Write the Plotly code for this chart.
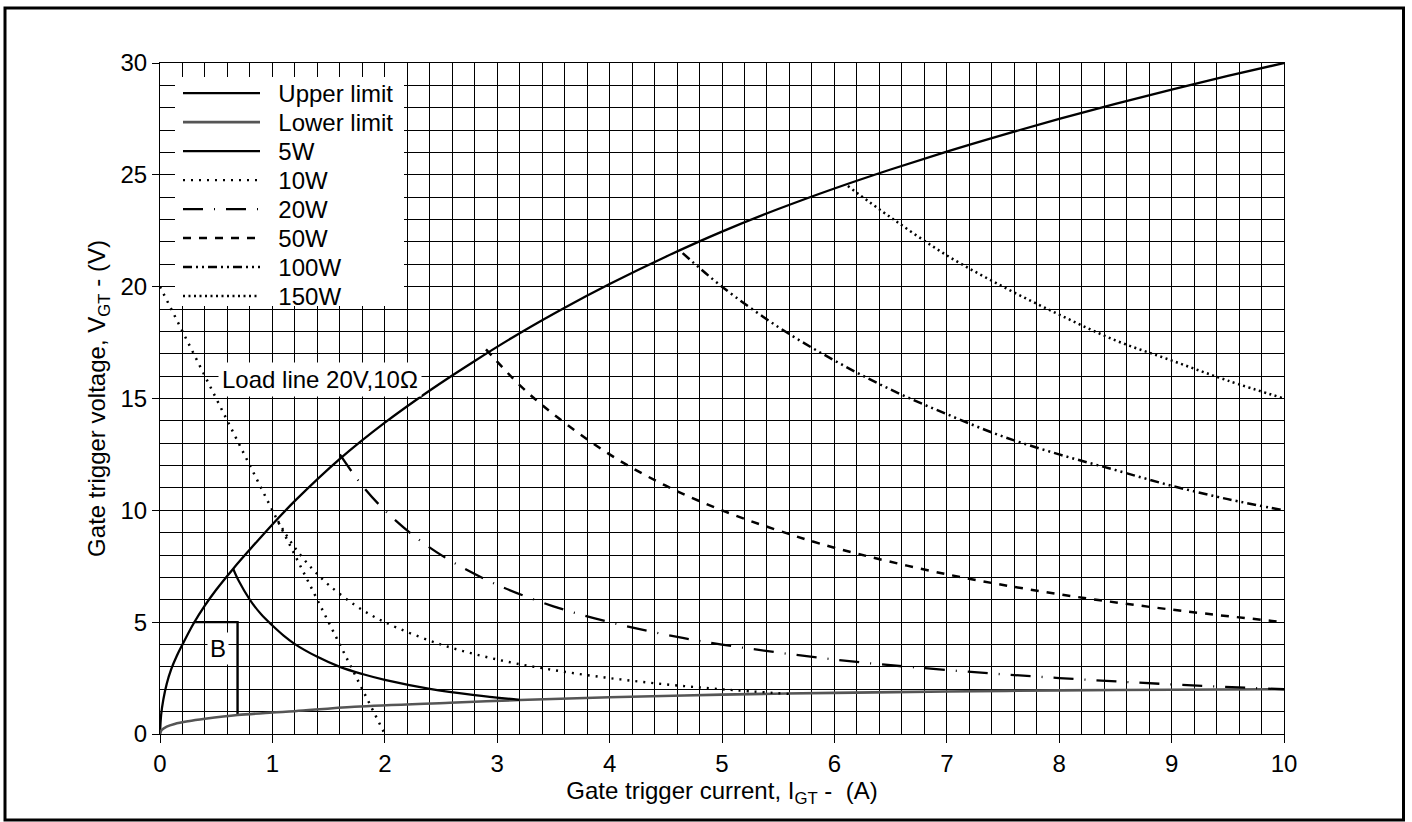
import plotly.graph_objects as go

FONT = "Liberation Sans, Arial, Helvetica, sans-serif"

# ---- data (I in A, V in V) ----
I_upper = [0, 0.01, 0.03, 0.06, 0.1, 0.15, 0.2, 0.3, 0.4, 0.5, 0.65, 0.8, 1.0, 1.2, 1.6, 2.0, 2.4,
           2.8, 3.2, 3.6, 4.0, 4.5, 5.0, 5.5, 6.0, 6.5, 7.0, 7.5, 8.0, 8.5, 9.0, 9.5, 10]
V_upper = [0, 0.85, 1.55, 2.25, 2.9, 3.5, 4.0, 4.95, 5.75, 6.45, 7.38, 8.25, 9.37, 10.42, 12.3, 13.92, 15.36,
           16.68, 17.92, 19.06, 20.12, 21.34, 22.46, 23.47, 24.39, 25.24, 26.04, 26.79, 27.5, 28.17, 28.81,
           29.42, 30.0]

I_lower = [0, 0.015, 0.06, 0.13, 0.25, 0.4, 0.69, 1.0, 1.2, 1.73, 2.58, 3.2, 4.0, 5.0, 6.0, 7.0, 8.0, 9.0, 10]
V_lower = [0, 0.18, 0.33, 0.45, 0.57, 0.68, 0.85, 0.96, 1.02, 1.22, 1.40, 1.52, 1.64, 1.76, 1.84, 1.9, 1.95, 1.98, 2.0]

I_5w = [0.65, 0.7, 0.8, 0.9, 1.0, 1.1, 1.2, 1.4, 1.6, 1.8, 2.0, 2.4, 2.8, 3.2]
V_5w = [7.4, 6.85, 6.0, 5.35, 4.85, 4.4, 4.02, 3.45, 3.0, 2.68, 2.42, 2.02, 1.74, 1.53]

I_10w = [1.05, 1.1, 1.2, 1.35, 1.5, 1.75, 2.0, 2.5, 3.0, 3.5, 4.0, 4.5, 5.0, 5.6]
V_10w = [9.52, 9.09, 8.33, 7.41, 6.67, 5.71, 5.0, 4.0, 3.33, 2.86, 2.5, 2.22, 2.0, 1.79]

I_20w = [1.6, 1.8, 2.0, 2.3, 2.6, 3.0, 3.5, 4.0, 4.5, 5.0, 6.0, 7.0, 8.0, 9.0, 10.0]
V_20w = [12.5, 11.1, 10.0, 8.7, 7.7, 6.67, 5.71, 5.0, 4.44, 4.0, 3.33, 2.86, 2.5, 2.22, 2.0]

I_50w = [2.9, 3.2, 3.5, 4.0, 4.5, 5.0, 5.5, 6.0, 7.0, 8.0, 9.0, 10.0]
V_50w = [17.2, 15.6, 14.3, 12.5, 11.1, 10.0, 9.1, 8.33, 7.14, 6.25, 5.56, 5.0]

I_100w = [4.65, 5.0, 5.5, 6.0, 6.5, 7.0, 7.5, 8.0, 8.5, 9.0, 9.5, 10.0]
V_100w = [21.5, 20.0, 18.2, 16.7, 15.4, 14.3, 13.3, 12.5, 11.8, 11.1, 10.5, 10.0]

I_150w = [6.12, 6.5, 7.0, 7.5, 8.0, 8.5, 9.0, 9.5, 10.0]
V_150w = [24.5, 23.1, 21.4, 20.0, 18.75, 17.6, 16.7, 15.8, 15.0]

I_load = [0, 2]
V_load = [20, 0]

I_boxB = [0.3, 0.69, 0.69]
V_boxB = [5.0, 5.0, 0.85]

x_ticks = list(range(0, 11))
y_ticks = [0, 5, 10, 15, 20, 25, 30]

series = [
    ("Upper limit", I_upper, V_upper, dict(color="black", width=2.3, dash="solid")),
    ("Lower limit", I_lower, V_lower, dict(color="#555555", width=2.6, dash="solid")),
    ("5W", I_5w, V_5w, dict(color="black", width=2.2, dash="solid")),
    ("10W", I_10w, V_10w, dict(color="black", width=2.4, dash="2px,6px")),
    ("20W", I_20w, V_20w, dict(color="black", width=2.3, dash="20px,11px,1px,11px")),
    ("50W", I_50w, V_50w, dict(color="black", width=2.5, dash="8px,8px")),
    ("100W", I_100w, V_100w, dict(color="black", width=2.5, dash="9px,4px,2px,4px,2px,4px")),
    ("150W", I_150w, V_150w, dict(color="black", width=2.5, dash="2px,3.5px")),
]

fig = go.Figure()

fig.add_trace(go.Scatter(x=I_load, y=V_load, mode="lines", showlegend=False,
                         line=dict(color="black", width=2.5, dash="2px,6px")))
fig.add_trace(go.Scatter(x=I_boxB, y=V_boxB, mode="lines", showlegend=False,
                         line=dict(color="black", width=2.4)))

legend_top_px = 71
row_px = 29
for k, (name, xs, ys, line) in enumerate(series):
    lg = "legend" if k == 0 else f"legend{k + 1}"
    fig.add_trace(go.Scatter(x=xs, y=ys, mode="lines", name="\u00a0\u00a0" + name,
                             line=line, line_shape="spline", legend=lg))
    top = legend_top_px + k * row_px
    fig.update_layout({lg: dict(
        x=(178 - 160) / 1124, y=(734 - top) / 671, xanchor="left", yanchor="top",
        bgcolor="rgba(0,0,0,0)", borderwidth=0, itemwidth=77,
        font=dict(family=FONT, size=24, color="black"))})

axis_font = dict(family=FONT, size=24, color="black")

fig.update_xaxes(range=[0, 10], tickmode="array", tickvals=x_ticks, ticktext=[str(v) for v in x_ticks],
                 ticks="outside", ticklen=8, tickwidth=1, tickcolor="black",
                 showgrid=True, gridcolor="black", gridwidth=1,
                 minor=dict(tick0=0, dtick=0.2, showgrid=True, gridcolor="black", gridwidth=1, ticks=""),
                 showline=True, linecolor="black", linewidth=1, mirror=True, zeroline=False,
                 tickfont=axis_font,
                 title=dict(text="Gate trigger current, I<sub>GT</sub> -\u00a0\u00a0(A)", font=axis_font, standoff=1))
fig.update_yaxes(range=[0, 30], tickmode="array", tickvals=y_ticks, ticktext=[str(v) for v in y_ticks],
                 ticks="outside", ticklen=7, tickwidth=1, tickcolor="black",
                 showgrid=True, gridcolor="black", gridwidth=1,
                 minor=dict(tick0=0, dtick=1, showgrid=True, gridcolor="black", gridwidth=1, ticks=""),
                 showline=True, linecolor="black", linewidth=1, mirror=True, zeroline=False,
                 tickfont=axis_font,
                 title=dict(text="Gate trigger voltage, V<sub>GT</sub> - (V)", font=axis_font, standoff=8))

shapes = [
    # white legend background
    dict(type="rect", xref="paper", yref="paper", layer="above",
         x0=(175 - 160) / 1124, x1=(404 - 160) / 1124, y0=(734 - 306) / 671, y1=(734 - 77) / 671,
         fillcolor="white", line=dict(width=0)),
    # outer frame
    dict(type="rect", xref="paper", yref="paper", layer="above",
         x0=(5 - 160) / 1124, x1=(1403.5 - 160) / 1124, y0=(734 - 820) / 671, y1=(734 - 8) / 671,
         fillcolor="rgba(0,0,0,0)", line=dict(color="black", width=3)),
]

annotations = [
    dict(x=0.52, y=15.85, xref="x", yref="y", text="Load line 20V,10\u03a9", showarrow=False,
         xanchor="left", yanchor="middle", bgcolor="white", borderpad=3,
         font=dict(family=FONT, size=24, color="black")),
    dict(x=0.52, y=3.83, xref="x", yref="y", text="B", showarrow=False,
         xanchor="center", yanchor="middle", bgcolor="white", borderpad=2,
         font=dict(family=FONT, size=24, color="black")),
]

fig.update_layout(width=1412, height=822, margin=dict(l=160, r=128, t=63, b=88, autoexpand=False),
                  paper_bgcolor="white", plot_bgcolor="white",
                  shapes=shapes, annotations=annotations,
                  font=dict(family=FONT, size=24, color="black"))

fig.write_html("out.html")
